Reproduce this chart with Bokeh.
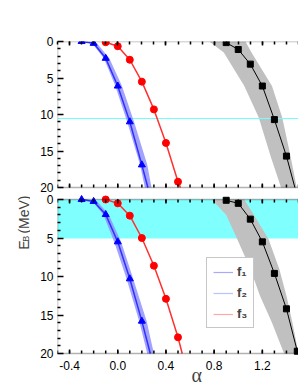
import numpy as np
from bokeh.plotting import figure
from bokeh.layouts import row
from bokeh.core.properties import value
from bokeh.models import (Range1d, FixedTicker, BoxAnnotation, Label,
                          Legend, LegendItem, PrintfTickFormatter)
from bokeh.embed import file_html
from bokeh.resources import INLINE

# ---------------- data ----------------
# upper panel
f1_top_alpha = [-0.3, -0.2, -0.1, 0.0, 0.1, 0.2]
f1_top_E = [0.0, 0.25, 2.3, 6.1, 11.0, 16.9]
f1_top_tail = (0.25, 20.0)
f1_top_band_E = [0.0, 0.3, 2.3, 6.1, 11.0, 16.9, 20.0]
f1_top_band_lo = [-0.31, -0.21, -0.115, -0.02, 0.078, 0.185, 0.225]
f1_top_band_hi = [-0.27, -0.17, -0.07, 0.035, 0.135, 0.245, 0.28]

f3_top_alpha = [-0.1, 0.0, 0.1, 0.2, 0.3, 0.4, 0.5]
f3_top_E = [0.1, 0.65, 2.5, 5.5, 9.3, 13.9, 19.2]
f3_top_tail = (0.52, 20.0)

sq_top_alpha = [0.9, 1.0, 1.1, 1.2, 1.3, 1.4]
sq_top_E = [0.15, 1.1, 3.1, 6.1, 10.7, 15.7]
sq_top_tail = (1.47, 20.0)
sq_top_band_E = [0.0, 1.5, 6.1, 10.4, 15.8, 20.0]
sq_top_band_lo = [0.76, 0.88, 1.05, 1.17, 1.27, 1.355]
sq_top_band_hi = [1.06, 1.11, 1.28, 1.365, 1.435, 1.485]

threshold_top_E = 10.48

# lower panel
f1_bot_alpha = [-0.3, -0.2, -0.1, 0.0, 0.1, 0.2]
f1_bot_E = [0.0, 0.25, 1.95, 5.5, 10.3, 15.8]
f1_bot_tail = (0.27, 20.0)
f1_bot_band_E = [0.0, 0.25, 1.95, 5.5, 10.3, 15.8, 20.0]
f1_bot_band_lo = [-0.31, -0.21, -0.12, -0.03, 0.073, 0.178, 0.245]
f1_bot_band_hi = [-0.27, -0.17, -0.075, 0.028, 0.128, 0.24, 0.30]

f3_bot_alpha = [-0.1, 0.0, 0.1, 0.2, 0.3, 0.4, 0.5]
f3_bot_E = [0.0, 0.5, 2.1, 5.0, 8.6, 12.9, 17.9]
f3_bot_tail = (0.535, 20.0)

sq_bot_alpha = [0.9, 1.0, 1.1, 1.2, 1.3, 1.4, 1.49]
sq_bot_E = [0.1, 0.5, 2.55, 5.5, 9.6, 14.2, 19.7]
sq_bot_band_E = [0.0, 2.0, 5.1, 9.0, 12.5, 16.0, 20.0]
sq_bot_band_lo = [0.78, 0.9, 0.99, 1.1, 1.18, 1.28, 1.38]
sq_bot_band_hi = [1.05, 1.13, 1.25, 1.34, 1.4, 1.45, 1.5]

window_bot_E = (0.0, 5.1)

x_major = [-0.4, 0.0, 0.4, 0.8, 1.2]
x_minor = [round(v, 1) for v in np.arange(-0.5, 1.51, 0.1)]
x_tick_labels = ["%.1f" % v for v in x_major]
e_major = [0, 5, 10, 15, 20]
e_minor = [e for e in range(0, 21) if e % 5]
legend_labels = ["f\u2081", "f\u2082", "f\u2083"]

# ---------------- layout (pixels) ----------------
W, H = 298, 385
TOP_Y = 41                       # top edge of upper panel
TOP_PX, GAP_PX, BOT_PX = 146, 12, 154
FRAME_PX = H - TOP_Y             # frame runs to the bottom of the canvas
E_MAX = 20.0
top_scale = TOP_PX / E_MAX
bot_scale = BOT_PX / E_MAX
BOT_OFF = TOP_PX + GAP_PX        # offset of lower panel from the frame top
FONT = "Liberation Sans"
LABEL_W = 30                     # strip holding the vertical title
MAIN_W = W - LABEL_W

p = figure(width=MAIN_W, height=H, x_range=Range1d(-0.5, 1.5),
           y_range=Range1d(FRAME_PX, 0), output_backend="svg",
           toolbar_location=None, x_axis_location="above",
           min_border_left=57 - LABEL_W, min_border_right=0,
           min_border_top=TOP_Y, min_border_bottom=0)
p.extra_y_ranges = {"top": Range1d(FRAME_PX / top_scale, 0),
                    "bot": Range1d((FRAME_PX - BOT_OFF) / bot_scale, -BOT_OFF / bot_scale)}
p.xgrid.visible = False
p.ygrid.visible = False
p.outline_line_color = None
p.background_fill_color = "white"
p.border_fill_color = "white"

# left axis: ticks of both panels on one axis
ypos_major = [round(e * top_scale, 4) for e in e_major] + \
             [round(BOT_OFF + e * bot_scale, 4) for e in e_major]
ypos_minor = [round(e * top_scale, 4) for e in e_minor] + \
             [round(BOT_OFF + e * bot_scale, 4) for e in e_minor]
yax = p.left[0]
yax.ticker = FixedTicker(ticks=ypos_major, minor_ticks=ypos_minor)
yax.major_label_overrides = {pos: str(e) for pos, e in zip(ypos_major, e_major * 2)}
yax.axis_line_color = None
yax.major_tick_in = 6
yax.major_tick_out = 0
yax.minor_tick_in = 3
yax.minor_tick_out = 0
yax.major_tick_line_width = 1.5
yax.minor_tick_line_width = 1.5
yax.major_label_standoff = 4
yax.major_label_text_font = FONT
yax.major_label_text_font_size = "12px"
yax.major_label_text_color = "black"

above = p.above[0]
above.ticker = FixedTicker(ticks=x_major, minor_ticks=x_minor)
above.formatter = PrintfTickFormatter(format="%.1f")
above.axis_line_color = None
above.major_tick_in = 4
above.major_tick_out = 0
above.minor_tick_in = 3
above.minor_tick_out = 0
above.major_tick_line_width = 1.5
above.minor_tick_line_width = 1.5
above.major_label_text_font_size = "12px"
above.major_label_text_color = None

# ---------------- upper panel ----------------
p.harea(y=sq_top_band_E, x1=sq_top_band_lo, x2=sq_top_band_hi,
        fill_color="#c0c0c0", y_range_name="top")
p.hspan(y=[threshold_top_E], line_color="#70ffff", line_width=1, y_range_name="top")
p.harea(y=f1_top_band_E, x1=f1_top_band_lo, x2=f1_top_band_hi,
        fill_color="#8c8cff", fill_alpha=0.8, y_range_name="top")
p.line(f1_top_alpha + [f1_top_tail[0]], f1_top_E + [f1_top_tail[1]],
       line_color="#3030ff", line_width=1.5, y_range_name="top")
p.line(f3_top_alpha + [f3_top_tail[0]], f3_top_E + [f3_top_tail[1]],
       line_color="#ff3030", line_width=1.5, y_range_name="top")
p.line(sq_top_alpha + [sq_top_tail[0]], sq_top_E + [sq_top_tail[1]],
       line_color="black", line_width=1, y_range_name="top")
p.scatter(f1_top_alpha, f1_top_E, marker="triangle", size=7, color="#0000ff", y_range_name="top")
p.scatter(f3_top_alpha, f3_top_E, marker="circle", size=7, color="#ff0000", y_range_name="top")
p.scatter(sq_top_alpha, sq_top_E, marker="square", size=6, color="black", y_range_name="top")

# ---------------- lower panel ----------------
p.hstrip(y0=[window_bot_E[0]], y1=[window_bot_E[1]], fill_color="#80ffff",
         line_color=None, y_range_name="bot")
p.harea(y=sq_bot_band_E, x1=sq_bot_band_lo, x2=sq_bot_band_hi,
        fill_color="#c0c0c0", y_range_name="bot")
p.harea(y=f1_bot_band_E, x1=f1_bot_band_lo, x2=f1_bot_band_hi,
        fill_color="#8c8cff", fill_alpha=0.8, y_range_name="bot")
p.line(f1_bot_alpha + [f1_bot_tail[0]], f1_bot_E + [f1_bot_tail[1]],
       line_color="#3030ff", line_width=1.5, y_range_name="bot")
p.line(f3_bot_alpha + [f3_bot_tail[0]], f3_bot_E + [f3_bot_tail[1]],
       line_color="#ff3030", line_width=1.5, y_range_name="bot")
p.line(sq_bot_alpha, sq_bot_E, line_color="black", line_width=1, y_range_name="bot")
p.scatter(f1_bot_alpha, f1_bot_E, marker="triangle", size=7, color="#0000ff", y_range_name="bot")
p.scatter(f3_bot_alpha, f3_bot_E, marker="circle", size=7, color="#ff0000", y_range_name="bot")
p.scatter(sq_bot_alpha, sq_bot_E, marker="square", size=6, color="black", y_range_name="bot")

# ---------------- panel frames and inner ticks ----------------
for rng in ("top", "bot"):
    p.add_layout(BoxAnnotation(left=-0.5, right=1.7, top=0, bottom=E_MAX,
                               fill_color=None, line_color="black",
                               line_width=1.5, y_range_name=rng))
for xs, L in ((x_minor, 3), (x_major, 4)):
    n = len(xs)
    p.segment(x0=xs, x1=xs, y0=[E_MAX] * n, y1=[E_MAX - L / top_scale] * n,
              line_color="black", line_width=1.5, y_range_name="top")
    p.segment(x0=xs, x1=xs, y0=[0.0] * n, y1=[L / bot_scale] * n,
              line_color="black", line_width=1.5, y_range_name="bot")
    p.segment(x0=xs, x1=xs, y0=[E_MAX] * n, y1=[E_MAX - L / bot_scale] * n,
              line_color="black", line_width=1.5, y_range_name="bot")

# x tick labels under the lower panel
p.text(x=x_major, y=[E_MAX + 12 / bot_scale] * len(x_major), text=x_tick_labels,
       text_font=value(FONT), text_font_size="12px", text_color="black",
       text_align="center", text_baseline="middle", y_range_name="bot")

# x title
p.add_layout(Label(x=0.655, y=FRAME_PX, text="\u03b1", text_font="Liberation Serif",
                   text_font_size="20px", text_align="center", text_baseline="bottom"))

# ---------------- legend ----------------
leg_colors = ["#a8a8ff", "#b8c4ff", "#ffa8a8"]
leg_r = [p.line(x=[np.nan], y=[np.nan], line_color=c, line_width=1.2, y_range_name="bot")
         for c in leg_colors]
legend = Legend(items=[LegendItem(label=t, renderers=[r]) for t, r in zip(legend_labels, leg_r)],
                location=(149, 57), glyph_width=20, glyph_height=14, label_standoff=4,
                label_width=10, label_height=14,
                padding=6, spacing=6, margin=0, label_text_font=FONT,
                label_text_font_style="bold", label_text_font_size="13px",
                border_line_color="#909090", border_line_width=1,
                background_fill_color="white", background_fill_alpha=1)
p.add_layout(legend)

# ---------------- vertical title in its own strip ----------------
ylab = figure(width=LABEL_W, height=H, x_range=Range1d(0, LABEL_W),
              y_range=Range1d(H, 0), output_backend="svg",
              toolbar_location=None, x_axis_location=None, y_axis_location=None,
              min_border=0)
ylab.xgrid.visible = False
ylab.ygrid.visible = False
ylab.outline_line_color = None
ylab.border_fill_color = "white"
for txt, x, y, size in (("E", 23, 233, "14px"), ("B", 25, 224, "9px"), ("(MeV)", 23, 215, "14px")):
    ylab.add_layout(Label(x=x, y=y, text=txt, angle=np.pi / 2, text_font=FONT,
                          text_font_size=size, text_align="left",
                          text_baseline="alphabetic"))

layout = row(ylab, p, spacing=0)
open("out.html", "w").write(file_html(layout, INLINE))
